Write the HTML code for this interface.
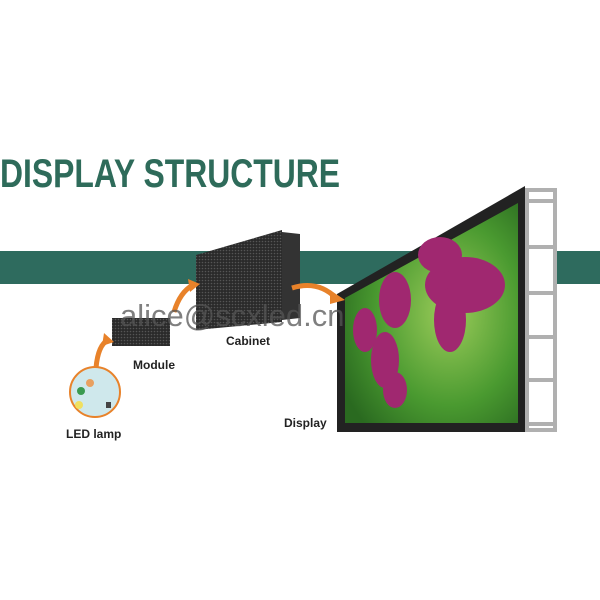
<!DOCTYPE html>
<html><head><style>
html,body{margin:0;padding:0;background:#fff;width:600px;height:600px;overflow:hidden}
</style></head><body>
<svg width="600" height="600" viewBox="0 0 600 600" xmlns="http://www.w3.org/2000/svg">
<defs>
<radialGradient id="g" cx="0.6" cy="0.5" r="0.7">
<stop offset="0" stop-color="#9ccc5a"/><stop offset="0.6" stop-color="#4a9a30"/><stop offset="1" stop-color="#2a6a20"/>
</radialGradient>
<pattern id="dots" width="3" height="3" patternUnits="userSpaceOnUse">
<rect width="3" height="3" fill="#2a2a2a"/><circle cx="1.5" cy="1.5" r="0.8" fill="#555"/>
</pattern>
</defs>
<text x="0" y="187" font-family="Liberation Sans, sans-serif" font-weight="bold" font-size="40" fill="#2e6b5a" textLength="340" lengthAdjust="spacingAndGlyphs">DISPLAY STRUCTURE</text>
<rect x="0" y="251" width="600" height="33" fill="#2e6b5e"/>
<g fill="none" stroke="#b0b0b0" stroke-width="4">
<rect x="527" y="190" width="28" height="240" fill="#fff"/>
<line x1="527" y1="201" x2="555" y2="201"/><line x1="527" y1="247" x2="555" y2="247"/>
<line x1="527" y1="293" x2="555" y2="293"/><line x1="527" y1="337" x2="555" y2="337"/>
<line x1="527" y1="380" x2="555" y2="380"/><line x1="527" y1="424" x2="555" y2="424"/>
</g>
<polygon points="337,294 525,186 525,432 337,432" fill="#222"/>
<polygon points="345,298 518,203 518,423 345,423" fill="url(#g)"/>
<g fill="#a02870">
<ellipse cx="465" cy="285" rx="40" ry="28"/>
<ellipse cx="450" cy="320" rx="16" ry="32"/>
<ellipse cx="395" cy="300" rx="16" ry="28"/>
<ellipse cx="365" cy="330" rx="12" ry="22"/>
<ellipse cx="385" cy="360" rx="14" ry="28"/>
<ellipse cx="395" cy="390" rx="12" ry="18"/>
<ellipse cx="440" cy="255" rx="22" ry="18"/>
</g>
<polygon points="282,232 300,234 300,318 282,320" fill="#333"/>
<polygon points="196,255 282,230 282,322 196,330" fill="url(#dots)"/>
<rect x="112" y="318" width="58" height="28" fill="url(#dots)"/>
<g fill="none" stroke="#e8822a" stroke-width="5">
<path d="M96,368 Q98,345 108,340"/>
<path d="M174,312 Q180,292 193,285"/>
<path d="M292,288 Q318,280 336,298"/>
</g>
<g fill="#e8822a">
<polygon points="104,333 114,342 102,346"/>
<polygon points="188,279 200,284 190,292"/>
<polygon points="330,290 345,300 330,304"/>
</g>
<circle cx="95" cy="392" r="25" fill="#cfe8ec" stroke="#e8822a" stroke-width="2"/>
<circle cx="90" cy="383" r="4" fill="#e8a060"/><circle cx="81" cy="391" r="4" fill="#3a9a50"/>
<circle cx="79" cy="405" r="4" fill="#f0e060"/><rect x="106" y="402" width="5" height="6" fill="#444"/>
<text x="120" y="326" font-family="Liberation Sans, sans-serif" font-size="31" fill="#555" opacity="0.75">alice@scxled.cn</text>
<g font-family="Liberation Sans, sans-serif" font-weight="bold" font-size="12" fill="#222">
<text x="133" y="369">Module</text>
<text x="226" y="345">Cabinet</text>
<text x="66" y="438">LED lamp</text>
<text x="284" y="427">Display</text>
</g>
</svg>
</body></html>
